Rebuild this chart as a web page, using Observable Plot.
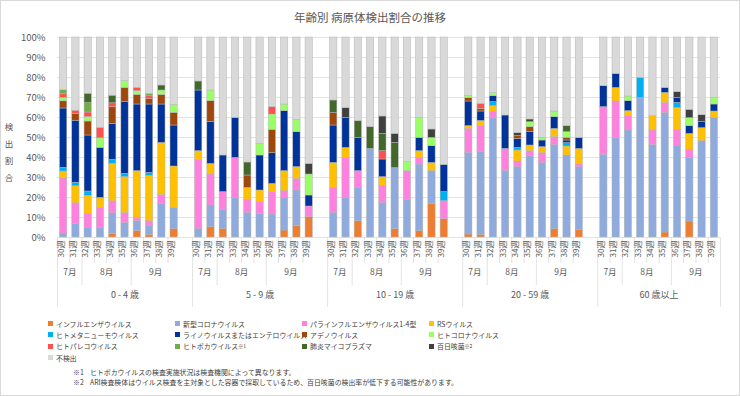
<!DOCTYPE html>
<html><head><meta charset="utf-8">
<script src="https://cdn.jsdelivr.net/npm/d3@7"></script>
<script src="https://cdn.jsdelivr.net/npm/@observablehq/plot@0.6"></script>
<style>
body{margin:0;background:#fff;font-family:'Noto Sans CJK JP','Noto Sans',sans-serif;color:#595959;}
#page{position:relative;width:740px;height:396px;overflow:hidden;}
#border{position:absolute;left:0;top:0;width:740px;height:396px;box-sizing:border-box;border:1px solid #d9d9d9;pointer-events:none;}
#title{position:absolute;left:0;top:8px;width:740px;text-align:center;font-size:11.5px;line-height:18px;color:#595959;}
#ylab{position:absolute;left:4px;top:123px;writing-mode:vertical-rl;font-size:8.5px;letter-spacing:8.5px;line-height:10px;color:#595959;}
#chart{position:absolute;left:0;top:0;}
#legend{position:absolute;left:48px;top:318px;display:grid;grid-template-columns:127px 127px 127px 127px;grid-auto-rows:11.3px;font-size:6.9px;color:#404040;}
#legend .it{display:flex;align-items:center;white-space:nowrap;}
#legend .sw{display:inline-block;flex:0 0 5px;width:5px;height:5px;margin-right:3px;}
#legend sup{font-size:5px;vertical-align:3px;line-height:0;}
#notes{position:absolute;left:73px;top:367px;font-size:6.9px;line-height:10px;color:#404040;}
#notes span.k{display:inline-block;width:17px;}
</style></head>
<body>
<div id="page">
  <div id="chart"></div>
  <div id="title">年齢別 病原体検出割合の推移</div>
  <div id="ylab">検出割合</div>
  <div id="legend"></div>
  <div id="notes"></div>
  <div id="border"></div>
</div>
<script>
// ---- categories ----
const ageGroups = ["0 - 4 歳", "5 - 9 歳", "10 - 19 歳", "20 - 59 歳", "60 歳以上"];
const weeks = [30, 31, 32, 33, 34, 35, 36, 37, 38, 39];
const weekLabels = ["30週", "31週", "32週", "33週", "34週", "35週", "36週", "37週", "38週", "39週"];
const monthNames = ["7月", "8月", "9月"];
const monthOfWeek = [0, 0, 1, 1, 1, 1, 2, 2, 2, 2];
const yTicks = [0, 10, 20, 30, 40, 50, 60, 70, 80, 90, 100];
const pathogens = ["インフルエンザウイルス", "新型コロナウイルス", "パラインフルエンザウイルス1-4型", "RSウイルス",
  "ヒトメタニューモウイルス", "ライノウイルスまたはエンテロウイルス", "アデノウイルス", "ヒトコロナウイルス",
  "ヒトパレコウイルス", "ヒトボカウイルス※1", "肺炎マイコプラズマ", "百日咳菌※2", "不検出"];
const colors = ["#ED7D31", "#8FAADC", "#FF80DD", "#FFC000", "#00B0F0", "#003399", "#9E480E", "#99FF66",
  "#FF5050", "#70AD47", "#43682B", "#404040", "#D9D9D9"];

// ---- series values (%), 5 age groups x 10 weeks ----
const flu = [0,0,0,0,1.8,0,3.3,1.3,0,4.2,  0,5.2,4.3,0,0,0,0,3.5,5.8,10.2,  0,0,8.2,0,0,4.2,0,3.2,16.8,9.2,  1.5,1.3,0,0,0,0,0,4.2,0,3.8,  0,0,0,0,0,2.5,0,8,0,0];
const covid = [2,6.8,4.7,4.8,10.3,7.2,4.9,4.4,16.8,10.5,  4.3,10.8,9.5,19.8,12.3,11.8,11.5,16.3,17.7,0,  12.3,19.8,16.6,44.3,17.3,30.5,18.8,33.3,16.4,0,  40.8,41.4,59.8,33.3,35.2,40.7,37.3,42.1,41,31.4,  41.3,49.8,53.5,69.8,46.3,59.8,45.7,31.8,48.2,59.8];
const para = [27.5,10.3,7.1,10,6,5,1.5,2.5,4.5,0,  34.5,15.5,8.9,20,6.5,5.9,11.3,3.4,5.8,5.3,  12.5,20,8.4,0,8.5,0,14.4,3.3,0,9,  12,13.1,2.9,11,2.8,2.5,4.9,3.9,0,1.5,  23.9,18.2,7.2,0,7.2,5,8.1,4,0,0];
const rsv = [3.5,8.5,9,5,18.7,18,23.5,22.6,26,20.8,  4.4,5.3,0,0,6,5.8,4,10,5.9,0,  12.5,5,0,0,4.4,0,0,3.4,4.1,0,  1.4,2.5,3,0,5.5,2.8,3,4.1,4.5,7.6,  0,6.8,2.5,0,7.2,5,10.9,8,6.5,3.2];
const hmpv = [1.8,1.8,2.2,0,2,1.6,0,1.5,0,0,  0,0,0,0,0,0,0,0,0,0,  0,0,0,0,0,0,0,0,0,4.5,  0,0,2,0,1.3,0,0,0,1.7,0,  0,0,0,10,0,0,2.6,0,0,0];
const rhino = [29.7,31,28,25,18,35.9,33.3,34.2,19.2,20.5,  30.3,20.9,18.3,20,0,17.5,15.4,30,17.5,5.5,  18.7,14.9,16.6,0,8.8,0,0,6.6,8.4,13.6,  12.3,4.7,3,16.7,4.5,6.7,3.3,5.9,1.3,5.5,  10.5,7,5,0,0,2.5,2.5,3.9,3,3.5];
const adeno = [3.6,3.3,7,0,8.3,7.1,4.8,2.8,4.8,6.3,  0,10.5,0,0,6.2,0,11.6,0,0,0,  6.2,0,0,0,0,0,0,0,0,0,  1.7,1.3,0,0,1.4,2.5,0,0,1.3,0,  0,0,0,0,0,0,0,0,0,0];
const hcov = [1.7,0,2.2,4.8,0,3.4,1.9,0,2.2,4,  0,5.3,0,0,0,5.8,7.7,3.3,6.1,10.5,  0,0,0,0,0,0,4.5,9.9,4.1,0,  1.1,0,1.5,0,0,2.5,1.3,2.8,2.9,0,  0,0,2.3,0,0,0,0,4,0,3.3];
const parecho = [1.8,1.7,2.3,5.2,2,0,1.6,1.3,0,0,  0,0,0,0,0,0,3.7,0,0,0,  0,0,0,0,4.2,0,0,0,0,0,  0,2.5,0,0,0,0,0,0,0,0,  0,0,0,0,0,0,0,0,0,0];
const boca = [2,0,4.7,0,0,0,0,1.2,0,0,  0,0,0,0,0,0,0,0,0,0,  0,0,0,0,0,0,0,0,0,0,  0,0,0,0,0,0,0,0,0,0,  0,0,0,0,0,0,0,0,0,0];
const myco = [0,0,4.7,0,3.8,0,0,0,2.5,0,  4.5,0,0,0,6.5,0,0,0,0,0,  6.3,0,8.4,10.9,8.6,12.6,0,0,0,0,  0,0,0,0,0,0,0,0,3,0,  0,0,0,0,0,0,0,0,0,0];
const pert = [0,0,0,0,0,0,0,0,0,0,  0,0,0,0,0,0,0,0,0,5.3,  0,5,0,0,8.7,4.5,0,0,4.2,0,  0,0,0,0,1.5,1.3,0,0,0,0,  0,0,0,0,0,0,2.9,4.1,3.5,0];
const none = [26.4,36.6,28.1,45.2,29.1,21.8,25.2,28.2,24,33.7,  22,26.5,59,40.2,62.5,53.2,34.8,33.5,41.2,63.2,  31.5,35.3,41.8,44.8,39.5,48.2,62.3,40.3,46,63.7,  29.2,33.2,27.8,39,47.8,41,50.2,37,44.3,50.2,  24.3,18.2,29.5,20.2,39.3,25.2,27.3,36.2,38.8,30.2];

const series = [flu, covid, para, rsv, hmpv, rhino, adeno, hcov, parecho, boca, myco, pert, none];

// ---- build tables ----
const slotsPerGroup = weeks.length + 1; // one empty category after each group
const rows = [];
const weekTicks = [];
ageGroups.forEach((g, gi) => {
  weeks.forEach((w, wi) => {
    const slot = gi * slotsPerGroup + wi;
    weekTicks.push({slot, label: weekLabels[wi]});
    series.forEach((arr, si) => {
      const v = arr[gi * weeks.length + wi];
      if (v > 0) rows.push({slot, pathogen: pathogens[si], value: v});
    });
  });
});
const lastSlot = (ageGroups.length - 1) * slotsPerGroup + weeks.length - 1;

// separators & labels
const weekBounds = [], monthBounds = [], groupBounds = [], monthLabels = [], groupLabels = [];
ageGroups.forEach((g, gi) => {
  const s0 = gi * slotsPerGroup;
  groupBounds.push(s0 - 0.5);
  const end = gi < ageGroups.length - 1 ? s0 + slotsPerGroup - 0.5 : lastSlot + 0.5;
  groupLabels.push({x: (s0 - 0.5 + end) / 2, label: g});
  for (let wi = 0; wi < weeks.length - 1; wi++) {
    const b = s0 + wi + 0.5;
    if (monthOfWeek[wi] !== monthOfWeek[wi + 1]) monthBounds.push(b); else weekBounds.push(b);
  }
  monthNames.forEach((m, mi) => {
    const idx = weeks.map((w, i) => i).filter(i => monthOfWeek[i] === mi);
    monthLabels.push({x: s0 + d3.mean(idx), label: m});
  });
});
groupBounds.push(lastSlot + 0.5);

const font = "'Noto Sans CJK JP','Noto Sans',sans-serif";
const lineColor = "#d9d9d9";

const chart = Plot.plot({
  width: 740, height: 310,
  marginTop: 37, marginBottom: 73, marginLeft: 57, marginRight: 20,
  style: {fontFamily: font, color: "#595959", background: "transparent", overflow: "visible"},
  x: {domain: [-0.5, lastSlot + 0.5], axis: null},
  y: {domain: [0, 100], axis: null},
  color: {domain: pathogens, range: colors},
  marks: [
    Plot.ruleY(yTicks, {stroke: lineColor, strokeWidth: 0.75}),
    Plot.axisY(yTicks, {tickFormat: d => d + "%", tickSize: 0, tickPadding: 12, fontSize: 9.5, label: null, fill: "#595959"}),
    Plot.rectY(rows, Plot.stackY({
      x1: d => d.slot - 0.5, x2: d => d.slot + 0.5, y: "value", fill: "pathogen",
      insetLeft: 2.5, insetRight: 2.5, stroke: "#b4b4b4", strokeWidth: 0.5
    })),
    Plot.ruleX(weekBounds, {x: d => d, y1: 0, y2: 0, insetBottom: -26, stroke: lineColor, strokeWidth: 0.75}),
    Plot.ruleX(monthBounds, {x: d => d, y1: 0, y2: 0, insetBottom: -48, stroke: lineColor, strokeWidth: 0.75}),
    Plot.ruleX(groupBounds, {x: d => d, y1: 0, y2: 0, insetBottom: -70, stroke: lineColor, strokeWidth: 0.75}),
    Plot.text(weekTicks, {x: "slot", text: "label", rotate: -90, textAnchor: "end", frameAnchor: "bottom", dy: 3, fontSize: 8, fill: "#595959"}),
    Plot.text(monthLabels, {x: "x", text: "label", frameAnchor: "bottom", dy: 37, fontSize: 8.5, fill: "#595959"}),
    Plot.text(groupLabels, {x: "x", text: "label", frameAnchor: "bottom", dy: 60, fontSize: 9, fill: "#595959"})
  ]
});
document.getElementById("chart").appendChild(chart);

// legend
const legend = document.getElementById("legend");
pathogens.forEach((p, i) => {
  const it = document.createElement("div");
  it.className = "it";
  const sw = document.createElement("span");
  sw.className = "sw"; sw.style.background = colors[i];
  it.appendChild(sw);
  const m = p.match(/^(.*?)(※\d)?$/);
  const t = document.createElement("span");
  t.textContent = m[1];
  it.appendChild(t);
  if (m[2]) { const s = document.createElement("sup"); s.textContent = m[2]; it.appendChild(s); }
  legend.appendChild(it);
});

// footnotes
const notes = [
  ["※1", "ヒトボカウイルスの検査実施状況は検査機関によって異なります。"],
  ["※2", "ARI検査検体はウイルス検査を主対象とした容器で採取しているため、百日咳菌の検出率が低下する可能性があります。"]
];
document.getElementById("notes").innerHTML = notes.map(([k, t]) => `<div><span class="k">${k}</span>${t}</div>`).join("");
</script>
</body></html>
